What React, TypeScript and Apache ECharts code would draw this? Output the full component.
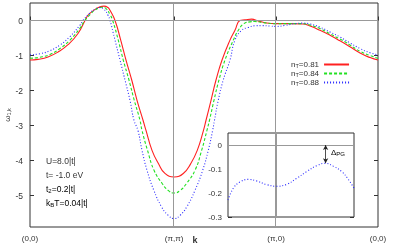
import React, { useEffect, useRef } from 'react';
import * as echarts from 'echarts';

// k-path coordinate: Γ(0,0)=0, M(π,π)=√2, X(π,0)=√2+1, Γ(0,0)=√2+2 (units of π)
const pathTicks = [0, Math.SQRT2, Math.SQRT2 + 1, Math.SQRT2 + 2];
const pathLabels = ['(0,0)', '(π,π)', '(π,0)', '(0,0)'];
const yTicks = [-5, -4, -3, -2, -1, 0];
const insetYTicks = [-0.3, -0.2, -0.1, 0];
const seriesNames = ['nT=0.81', 'nT=0.84', 'nT=0.88'];
const seriesColors = ['#ff2020', '#22e022', '#2a2aff'];

const curve081: [number, number][] = [
  [0, -1.13], [0.078, -1.11], [0.177, -1.04], [0.275, -0.9], [0.373, -0.69], [0.471, -0.37],
  [0.54, 0], [0.569, 0.15], [0.635, 0.31], [0.687, 0.39], [0.726, 0.41], [0.765, 0.37],
  [0.785, 0.29], [0.834, 0], [0.89, -0.56], [0.942, -1.13], [0.998, -1.7], [1.05, -2.28],
  [1.109, -2.85], [1.138, -3.14], [1.197, -3.71], [1.261, -4.09], [1.324, -4.37], [1.414, -4.47],
  [1.504, -4.37], [1.577, -4.09], [1.641, -3.71], [1.702, -3.14], [1.727, -2.85], [1.776, -2.28],
  [1.825, -1.7], [1.884, -1.13], [1.962, -0.56], [2.011, -0.28], [2.06, 0], [2.109, 0.02],
  [2.175, 0.04], [2.237, -0.01], [2.322, -0.07], [2.414, -0.09], [2.551, -0.09], [2.678, -0.1],
  [2.747, -0.16], [2.845, -0.28], [2.943, -0.42], [3.041, -0.58], [3.139, -0.75], [3.238, -0.93],
  [3.336, -1.06], [3.414, -1.13],
];

const curve084: [number, number][] = [
  [0, -1.08], [0.098, -1.05], [0.196, -0.97], [0.294, -0.8], [0.392, -0.56], [0.491, -0.22],
  [0.53, -0.03], [0.589, 0.17], [0.638, 0.3], [0.687, 0.37], [0.706, 0.38], [0.746, 0.34],
  [0.785, 0.17], [0.811, 0], [0.866, -0.56], [0.915, -1.13], [0.971, -1.7], [1.023, -2.28],
  [1.079, -2.85], [1.099, -3.14], [1.153, -3.71], [1.217, -4.28], [1.295, -4.65], [1.354, -4.85],
  [1.414, -4.93], [1.475, -4.85], [1.537, -4.65], [1.619, -4.28], [1.684, -3.71], [1.736, -3.14],
  [1.761, -2.85], [1.805, -2.28], [1.854, -1.7], [1.913, -1.13], [1.995, -0.56], [2.044, -0.28],
  [2.099, -0.09], [2.158, -0.04], [2.207, -0.03], [2.286, -0.06], [2.414, -0.09], [2.551, -0.09],
  [2.678, -0.09], [2.747, -0.13], [2.845, -0.23], [2.943, -0.38], [3.041, -0.53], [3.139, -0.7],
  [3.238, -0.88], [3.336, -1.0], [3.414, -1.08],
];

const curve088: [number, number][] = [
  [0, -0.98], [0.098, -0.95], [0.196, -0.86], [0.294, -0.7], [0.392, -0.46], [0.491, -0.13],
  [0.52, 0], [0.589, 0.22], [0.638, 0.32], [0.677, 0.37], [0.726, 0.32], [0.765, 0.15],
  [0.785, 0], [0.834, -0.56], [0.883, -1.13], [0.932, -1.7], [0.981, -2.28], [1.02, -2.85],
  [1.059, -3.14], [1.099, -3.71], [1.148, -4.28], [1.215, -4.85], [1.292, -5.33], [1.354, -5.56],
  [1.414, -5.66], [1.475, -5.56], [1.537, -5.33], [1.619, -4.85], [1.694, -4.28], [1.749, -3.71],
  [1.792, -3.14], [1.81, -2.85], [1.847, -2.28], [1.896, -1.7], [1.962, -1.13], [2.011, -0.56],
  [2.077, -0.28], [2.139, -0.2], [2.207, -0.15], [2.276, -0.145], [2.355, -0.16], [2.414, -0.17],
  [2.502, -0.14], [2.6, -0.09], [2.678, -0.076], [2.747, -0.1], [2.845, -0.19], [2.943, -0.33],
  [3.041, -0.47], [3.139, -0.64], [3.238, -0.8], [3.336, -0.92], [3.414, -0.98],
];

const insetCurve088: [number, number][] = [
  [2.14, -0.229], [2.17, -0.18], [2.208, -0.154], [2.254, -0.143], [2.302, -0.15], [2.358, -0.165],
  [2.414, -0.172], [2.471, -0.164], [2.527, -0.139], [2.583, -0.111], [2.64, -0.086], [2.69, -0.076],
  [2.733, -0.088], [2.781, -0.111], [2.818, -0.143], [2.85, -0.18],
];

const FONT = '"Liberation Sans", Arial, sans-serif';
const TXT = '#333';

export default function App() {
  const ref = useRef<HTMLDivElement>(null);
  useEffect(() => {
    if (!ref.current) return;
    const chart = echarts.init(ref.current, null, { renderer: 'svg' });
    const peak = insetCurve088.reduce((a, b) => (b[1] > a[1] ? b : a));
    const lineTypes: any[] = ['solid', [3, 2], [1, 2]];
    const curves = [curve081, curve084, curve088];
    const sub = { fontSize: 6, padding: [4, 0, 0, 0], fontFamily: FONT, color: TXT };
    const norm = { fontSize: 8.5, fontFamily: FONT, color: TXT };
    const tickStyle = { show: true, inside: true, length: 4, lineStyle: { color: '#333' } };
    chart.setOption({
      animation: false,
      textStyle: { fontFamily: FONT },
      grid: [
        { left: 30, right: 15, top: 3, bottom: 17, show: true, borderColor: '#333', borderWidth: 1, backgroundColor: 'transparent', outerBoundsMode: 'none', containLabel: false },
        { left: 228, top: 133, width: 126, height: 84, show: true, borderColor: '#333', borderWidth: 1, backgroundColor: '#fff', z: 5, outerBoundsMode: 'none', containLabel: false },
      ],
      xAxis: [
        {
          type: 'value', gridIndex: 0, min: 0, max: pathTicks[3],
          axisLine: { show: false }, splitLine: { show: false },
          axisTick: { ...tickStyle, customValues: pathTicks },
          axisLabel: {
            customValues: pathTicks, fontSize: 8, color: TXT, margin: 7,
            formatter: (v: number) => pathLabels[pathTicks.findIndex((t) => Math.abs(t - v) < 1e-6)] ?? '',
          },
          name: 'k', nameLocation: 'middle', nameGap: 8, nameMoveOverlap: false,
          nameTextStyle: { fontWeight: 'bold', fontSize: 9, color: TXT, padding: [0, 18, 0, 0] },
        },
        {
          type: 'value', gridIndex: 1, min: 2.14, max: 2.85,
          axisLine: { show: false }, splitLine: { show: false }, axisTick: { show: false }, axisLabel: { show: false },
        },
      ],
      yAxis: [
        {
          type: 'value', gridIndex: 0, min: -5.9, max: 0.5,
          axisLine: { show: false }, splitLine: { show: false },
          axisTick: { ...tickStyle, customValues: yTicks },
          axisLabel: { customValues: yTicks, fontSize: 8.5, color: TXT, margin: 7 },
          name: '{a|ω}{b|1,k}', nameLocation: 'middle', nameRotate: 90, nameGap: 18, nameMoveOverlap: false,
          nameTextStyle: { rich: { a: { fontSize: 8, lineHeight: 9, color: TXT, fontFamily: FONT }, b: { fontSize: 5.5, lineHeight: 6, padding: [3, 0, 0, 0], color: TXT, fontFamily: FONT } } },
        },
        {
          type: 'value', gridIndex: 0, position: 'right', min: -5.9, max: 0.5,
          axisLine: { show: false }, splitLine: { show: false },
          axisTick: { ...tickStyle, customValues: yTicks }, axisLabel: { show: false },
        },
        {
          type: 'value', gridIndex: 1, min: -0.3, max: 0.05,
          axisLine: { show: false }, splitLine: { show: false },
          axisTick: { ...tickStyle, customValues: insetYTicks },
          axisLabel: { customValues: insetYTicks, fontSize: 8, color: TXT, margin: 6, formatter: (v: number) => (v === 0 ? '0' : v.toFixed(1)) },
        },
        {
          type: 'value', gridIndex: 1, position: 'right', min: -0.3, max: 0.05,
          axisLine: { show: false }, splitLine: { show: false },
          axisTick: { ...tickStyle, customValues: insetYTicks }, axisLabel: { show: false },
        },
      ],
      legend: {
        orient: 'vertical', left: 286, top: 55, align: 'right',
        itemWidth: 25, itemHeight: 7, itemGap: 0,
        itemStyle: { opacity: 0 },
        data: seriesNames,
        formatter: (name: string) => `{n|n}{s|T}{n|=${name.split('=')[1]}}`,
        textStyle: {
          fontSize: 8, color: TXT, lineHeight: 7.5,
          rich: {
            n: { fontSize: 8, lineHeight: 7.5, fontFamily: FONT, color: TXT },
            s: { fontSize: 5.5, lineHeight: 4.5, padding: [3, 0, 0, 0], fontFamily: FONT, color: TXT },
          },
        },
      },
      series: [
        {
          type: 'line', name: 'refMain', data: [], xAxisIndex: 0, yAxisIndex: 0, z: 1,
          markLine: {
            silent: true, symbol: ['none', 'none'], label: { show: false },
            lineStyle: { color: '#999', width: 1, type: 'solid' },
            data: [{ xAxis: pathTicks[1] }, { xAxis: pathTicks[2] }, { yAxis: 0 }],
          },
        },
        ...curves.map((c, i) => ({
          type: 'line', name: seriesNames[i], data: c, xAxisIndex: 0, yAxisIndex: 0,
          showSymbol: false, symbol: 'none', smooth: 0.5, z: 3,
          lineStyle: { color: seriesColors[i], width: 1.1, type: lineTypes[i] },
          itemStyle: { color: seriesColors[i] },
        })),
        {
          type: 'line', name: 'refInset', data: [], xAxisIndex: 1, yAxisIndex: 2, z: 6,
          markLine: {
            silent: true, symbol: ['none', 'none'], label: { show: false },
            lineStyle: { color: '#999', width: 1, type: 'solid' },
            data: [{ xAxis: pathTicks[2] }, { yAxis: 0 }],
          },
        },
        {
          type: 'line', name: 'inset', data: insetCurve088, xAxisIndex: 1, yAxisIndex: 2,
          showSymbol: false, symbol: 'none', smooth: 0.4, z: 7,
          lineStyle: { color: seriesColors[2], width: 1.1, type: lineTypes[2] },
          markLine: {
            silent: true, symbol: ['arrow', 'arrow'], symbolSize: [4, 5], label: { show: false },
            lineStyle: { color: '#222', width: 0.8, type: 'solid' },
            data: [[{ coord: [peak[0], 0] }, { coord: [peak[0], peak[1]] }]],
          },
        },
      ],
      graphic: [
        { type: 'text', left: 46, top: 156, style: { text: 'U=8.0|t|', font: `8.5px ${FONT}`, fill: TXT } },
        { type: 'text', left: 46, top: 170, style: { text: 't= -1.0 eV', font: `8.5px ${FONT}`, fill: TXT } },
        { type: 'text', left: 46, top: 184, style: { text: '{n|t}{s|2}{n|=0.2|t|}', rich: { n: norm, s: sub } } },
        { type: 'text', left: 46, top: 198, style: { text: '{n|k}{s|B}{n|T=0.04|t|}', rich: { n: norm, s: sub } } },
        { type: 'text', left: 331, top: 148, z: 10, style: { text: '{n|Δ}{s|PG}', rich: { n: { ...norm, fontSize: 8 }, s: sub } } },
      ],
    });
    return () => chart.dispose();
  }, []);
  return <div ref={ref} style={{ position: 'fixed', left: 0, top: 0, width: 393, height: 244 }} />;
}
